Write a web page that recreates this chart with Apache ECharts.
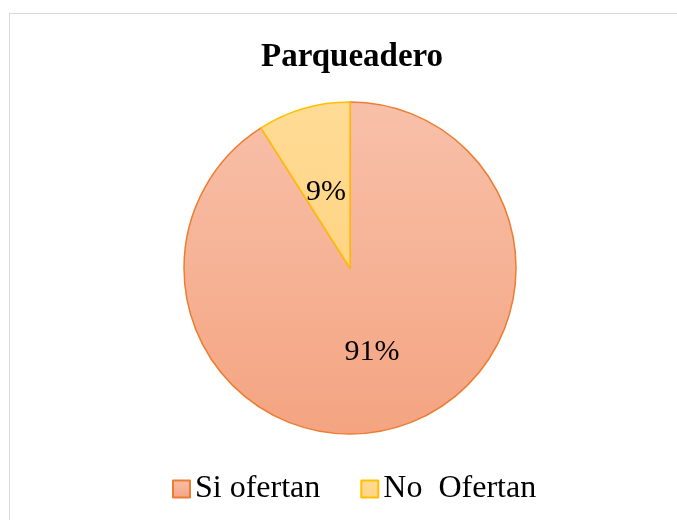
<!DOCTYPE html>
<html>
<head>
<meta charset="utf-8">
<script src="https://cdn.jsdelivr.net/npm/echarts@6/dist/echarts.min.js"></script>
<style>
  html, body { margin: 0; padding: 0; background: #fff; overflow: hidden; }
  .frame { position: absolute; left: 9px; top: 13px; width: 700px; height: 600px; border: 1px solid #d9d9d9; }
  #chart { position: absolute; left: 0; top: 0; width: 677px; height: 520px; }
</style>
</head>
<body>
<div class="frame"></div>
<div id="chart"></div>
<script>
var categories = ['Si ofertan', 'No  Ofertan'];
var values = [91, 9];

var fills = [
  ['#F8C0A9', '#F4A481'],
  ['#FFDB95', '#FFD585']
];
var borders = ['#ED7D31', '#FFC000'];
var labelOffsets = [[-2, 2], [0, 7]];

var myChart = echarts.init(document.getElementById('chart'));
var option = {
  backgroundColor: 'transparent',
  title: {
    text: 'Parqueadero',
    left: 256,
    top: 36,
    textStyle: {
      fontFamily: 'Liberation Serif',
      fontWeight: 'bold',
      fontSize: 33,
      color: '#000'
    }
  },
  legend: {
    bottom: 10,
    left: 167,
    itemWidth: 17,
    itemHeight: 17,
    itemGap: 40,
    icon: 'rect',
    textStyle: {
      fontFamily: 'Liberation Serif',
      fontSize: 32,
      color: '#000'
    },
    data: categories
  },
  series: [{
    type: 'pie',
    center: [350, 268],
    radius: 166,
    startAngle: 90,
    clockwise: true,
    label: {
      show: true,
      position: 'inside',
      formatter: '{c}%',
      fontFamily: 'Liberation Serif',
      fontSize: 30,
      color: '#000'
    },
    labelLine: { show: false },
    emphasis: { disabled: true },
    data: categories.map(function (name, i) {
      return {
        name: name,
        value: values[i],
        label: { offset: labelOffsets[i] },
        itemStyle: {
          color: new echarts.graphic.LinearGradient(0, 0, 0, 1, [
            { offset: 0, color: fills[i][0] },
            { offset: 1, color: fills[i][1] }
          ]),
          borderColor: borders[i],
          borderWidth: 1.5
        }
      };
    })
  }]
};
myChart.setOption(option);
</script>
</body>
</html>
